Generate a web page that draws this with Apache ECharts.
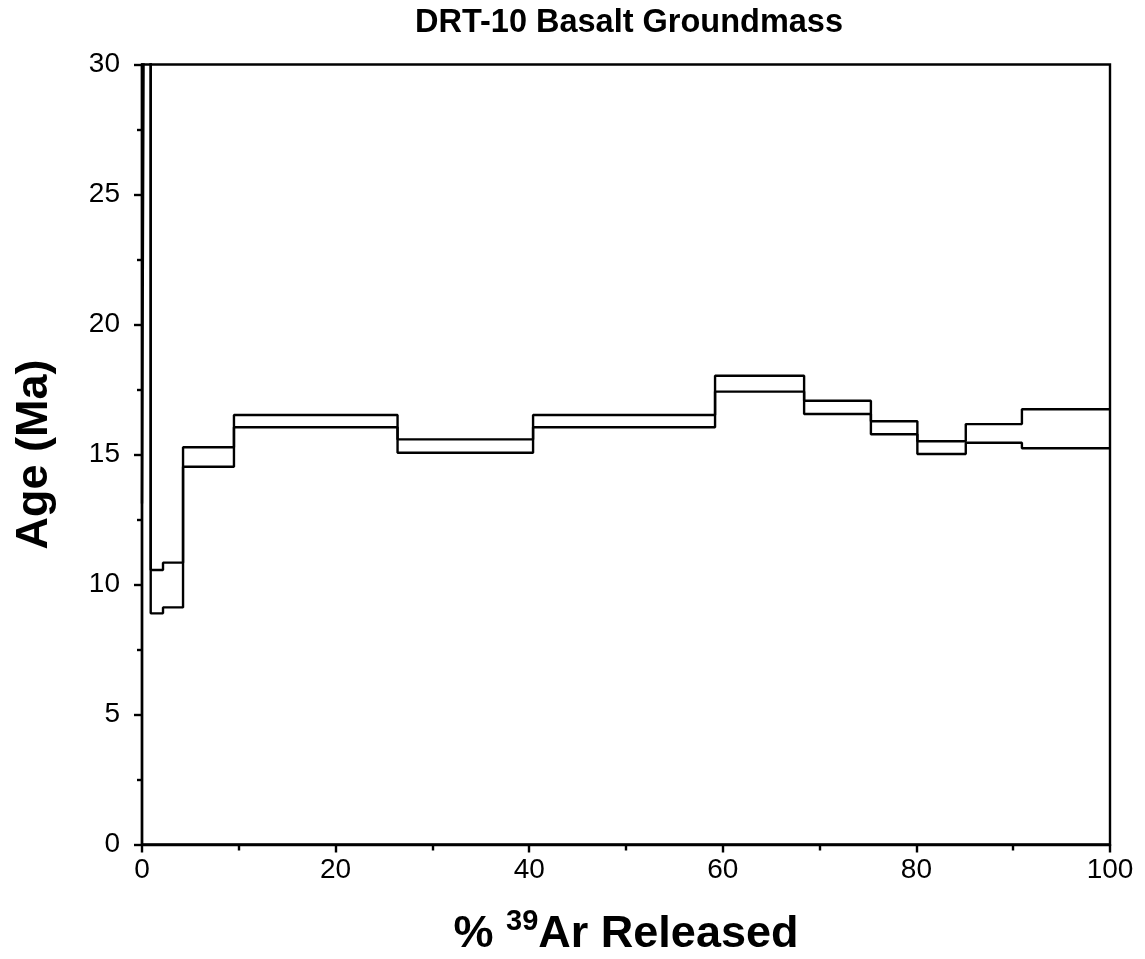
<!DOCTYPE html>
<html>
<head>
<meta charset="utf-8">
<style>
  html, body { margin: 0; padding: 0; background: #fff; }
  #chart { width: 1145px; height: 959px; }
</style>
<script src="https://cdn.jsdelivr.net/npm/echarts@6/dist/echarts.min.js"></script>
</head>
<body>
<div id="chart"></div>
<script>
// Age spectrum: cumulative % 39Ar released at each step boundary
const stepEdges = [0, 0.2, 0.9, 2.17, 4.24, 9.5, 26.4, 40.4, 59.2, 68.4, 75.3, 80.1, 85.1, 90.9, 100];
// Upper and lower age bounds (Ma) of each heating step (first two steps run off scale)
const ageUpper = [38, 46, 10.56, 10.84, 15.28, 16.52, 15.58, 16.52, 18.03, 17.07, 16.28, 15.51, 16.17, 16.74];
const ageLower = [13.12, 34, 8.89, 9.12, 14.53, 16.05, 15.07, 16.05, 17.42, 16.56, 15.78, 15.02, 15.45, 15.24];

const FONT = '"Liberation Sans", Arial, sans-serif';
const LW = 2.4;

// Turn per-step values into a stair line: each step is a flat run across its % range
function stairs(values) {
  const pts = [];
  for (let i = 0; i < values.length; i++) {
    pts.push([stepEdges[i], values[i]]);
    pts.push([stepEdges[i + 1], values[i]]);
  }
  return pts;
}

const chart = echarts.init(document.getElementById('chart'), null, { renderer: 'canvas' });

const lineStyle = { color: '#000', width: LW };

chart.setOption({
  animation: false,
  backgroundColor: '#fff',
  graphic: [{
    type: 'text',
    x: 629,
    y: 23,
    style: {
      text: 'DRT-10 Basalt Groundmass',
      font: 'bold 32.5px ' + FONT,
      fill: '#000',
      textAlign: 'center',
      textVerticalAlign: 'middle'
    }
  }],
  grid: {
    left: 142,
    right: 35,
    top: 64.5,
    bottom: 114.5,
    containLabel: false,
    outerBoundsMode: 'none',
    show: true,
    borderColor: '#000',
    borderWidth: LW,
    backgroundColor: 'transparent'
  },
  xAxis: {
    type: 'value',
    min: 0,
    max: 100,
    interval: 20,
    name: '{n|% }{sup|39}{n|Ar Released}',
    nameLocation: 'middle',
    nameGap: 63,
    nameTextStyle: {
      rich: {
        n: { fontFamily: FONT, fontSize: 45, fontWeight: 'bold', color: '#000', verticalAlign: 'bottom', lineHeight: 50 },
        sup: { fontFamily: FONT, fontSize: 29, fontWeight: 'bold', color: '#000', verticalAlign: 'top', lineHeight: 50 }
      }
    },
    axisLine: { show: true, onZero: false, lineStyle: { color: '#000', width: LW } },
    axisTick: { show: true, inside: false, length: 8, lineStyle: { color: '#000', width: LW } },
    minorTick: { show: true, splitNumber: 2, length: 6, lineStyle: { color: '#000', width: LW } },
    splitLine: { show: false },
    axisLabel: { fontFamily: FONT, fontSize: 28, color: '#000', margin: 12 }
  },
  yAxis: {
    type: 'value',
    min: 0,
    max: 30,
    interval: 5,
    name: 'Age (Ma)',
    nameLocation: 'middle',
    nameGap: 85,
    nameTextStyle: { fontFamily: FONT, fontSize: 45, fontWeight: 'bold', color: '#000' },
    axisLine: { show: true, onZero: false, lineStyle: { color: '#000', width: LW } },
    axisTick: { show: true, inside: false, length: 8, lineStyle: { color: '#000', width: LW } },
    minorTick: { show: true, splitNumber: 2, length: 5, lineStyle: { color: '#000', width: LW } },
    splitLine: { show: false },
    axisLabel: { fontFamily: FONT, fontSize: 28, color: '#000', margin: 22 }
  },
  series: [
    {
      name: 'upper',
      type: 'line',
      data: stairs(ageUpper),
      showSymbol: false,
      symbol: 'none',
      clip: true,
      lineStyle: lineStyle
    },
    {
      name: 'lower',
      type: 'line',
      data: stairs(ageLower),
      showSymbol: false,
      symbol: 'none',
      clip: true,
      lineStyle: lineStyle
    }
  ]
});
</script>
</body>
</html>
